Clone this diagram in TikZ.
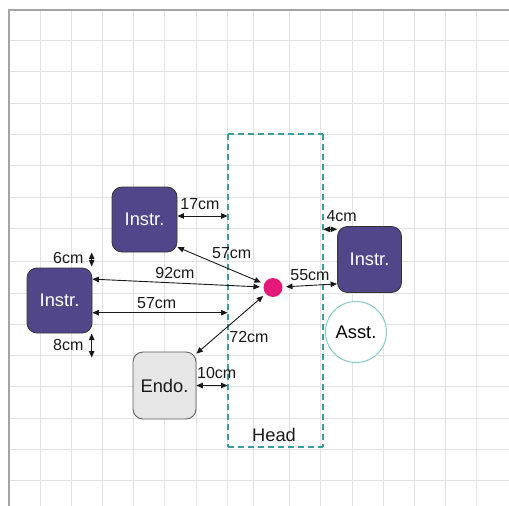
\documentclass[tikz,border=0pt]{standalone}
\usepackage{fontspec}
\setmainfont{Liberation Sans}
\usetikzlibrary{arrows.meta}

\definecolor{gridgray}{HTML}{E2E2E2}
\definecolor{framegray}{HTML}{A4A4A4}
\definecolor{instrfill}{HTML}{52468A}
\definecolor{headteal}{HTML}{3A9E9E}
\definecolor{asstteal}{HTML}{86CACA}
\definecolor{focuspink}{HTML}{E5197A}
\definecolor{endofill}{HTML}{E6E6E6}

\begin{document}
\begin{tikzpicture}[x=1pt,y=-1pt,
  boxlabel/.style={font=\fontsize{18.3}{20}\selectfont},
  instrbox/.style={boxlabel, draw=black!80, line width=0.8pt, fill=instrfill,
    rounded corners=10pt, minimum width=65pt, minimum height=65pt,
    inner sep=0pt, text=white},
  endobox/.style={boxlabel, draw=black!65, line width=0.8pt, fill=endofill,
    rounded corners=10pt, minimum width=63pt, minimum height=67pt,
    inner sep=0pt, text=black!90},
  headline/.style={draw=headteal, line width=1.7pt, dash pattern=on 6pt off 4pt},
  dist/.style={line width=0.9pt, black!90,
    {Triangle[length=6.5pt,width=5.5pt]}-{Triangle[length=6.5pt,width=5.5pt]}},
  lbl/.style={inner sep=0pt, text=black!90, font=\fontsize{16}{18}\selectfont}
]
\useasboundingbox (0,0) rectangle (509,506);
\fill[white] (0,0) rectangle (509,506);

% background grid
\foreach \gx in {40.5,71.7,102.7,133.7,164.8,196,227.5,253.3,289.3,320.7,352.5,383.3,414.3,445.7,476.7}
  \draw[gridgray, line width=1pt] (\gx,10) -- (\gx,506);
\foreach \gy in {40.7,71.7,103.3,134.3,165.5,197.3,228.7,261.5,293.3,324.7,355.7,386.7,418.3,449.2,480}
  \draw[gridgray, line width=1pt] (9,\gy) -- (509,\gy);
\draw[framegray, line width=1.5pt] (9,506) -- (9,10) -- (509,10);

% head region
\coordinate (hnw) at (227.8,134);
\coordinate (hse) at (323.3,447.3);
\draw[headline] (hnw) -- (hnw -| hse);
\draw[headline] (hnw -| hse) -- (hse);
\draw[headline] (hse -| hnw) -- (hse);
\draw[headline] (hnw) -- (hse -| hnw);
\node[lbl, font=\fontsize{18.3}{20}\selectfont] (headlbl) at (274,435) {Head};

% team and equipment
\node[instrbox] (top) at (144.5,219.5) {Instr.};
\node[instrbox] (left) at (59.5,300.5) {Instr.};
\node[instrbox, minimum width=64pt, minimum height=66pt] (right) at (369.5,259.5) {Instr.};
\node[endobox] (endo) at (164.5,385.5) {Endo.};
\node[boxlabel, circle, draw=asstteal, line width=1pt, fill=white,
      minimum size=61pt, inner sep=0pt] (asst) at (356,332) {Asst.};
\node[circle, fill=focuspink, minimum size=19pt, inner sep=0pt, outer sep=3.5pt]
  (dot) at (273,287.5) {};

% free ends of the distance markers
\coordinate (e17) at (227.5,216);
\coordinate (e57) at (227.5,312.7);
\coordinate (e10) at (227.5,385.5);
\coordinate (e4)  at (323.3,229.3);
\coordinate (s6a) at (91.7,252.5);
\coordinate (s6b) at (91.7,266.5);
\coordinate (s8a) at (91.7,333.5);
\coordinate (s8b) at (91.7,357.5);

% distances
\draw[dist] (top.east |- e17) -- (e17);
\draw[dist] (top.-40) -- (dot);
\draw[dist] (left.33.5) -- (dot);
\draw[dist] (left.east |- e57) -- (e57);
\draw[dist] (s6a) -- (s6b);
\draw[dist] (s8a) -- (s8b);
\draw[dist] (endo.45) -- (dot);
\draw[dist] (endo.east |- e10) -- (e10);
\draw[dist] (dot) -- (right.217.8);
\draw[dist] (e4) -- (right.west |- e4);

% distance labels
\node[lbl] (l17) at (200,204) {17cm};
\node[lbl] (l57a) at (231.7,253.3) {57cm};
\node[lbl] (l92) at (175,273.3) {92cm};
\node[lbl] (l57b) at (156.7,302.7) {57cm};
\node[lbl] (l6) at (68.3,257.7) {6cm};
\node[lbl] (l8) at (68.3,345) {8cm};
\node[lbl] (l72) at (249,337) {72cm};
\node[lbl] (l10) at (216.7,372.7) {10cm};
\node[lbl] (l55) at (310,275) {55cm};
\node[lbl] (l4) at (341.7,216) {4cm};
\end{tikzpicture}
\end{document}
